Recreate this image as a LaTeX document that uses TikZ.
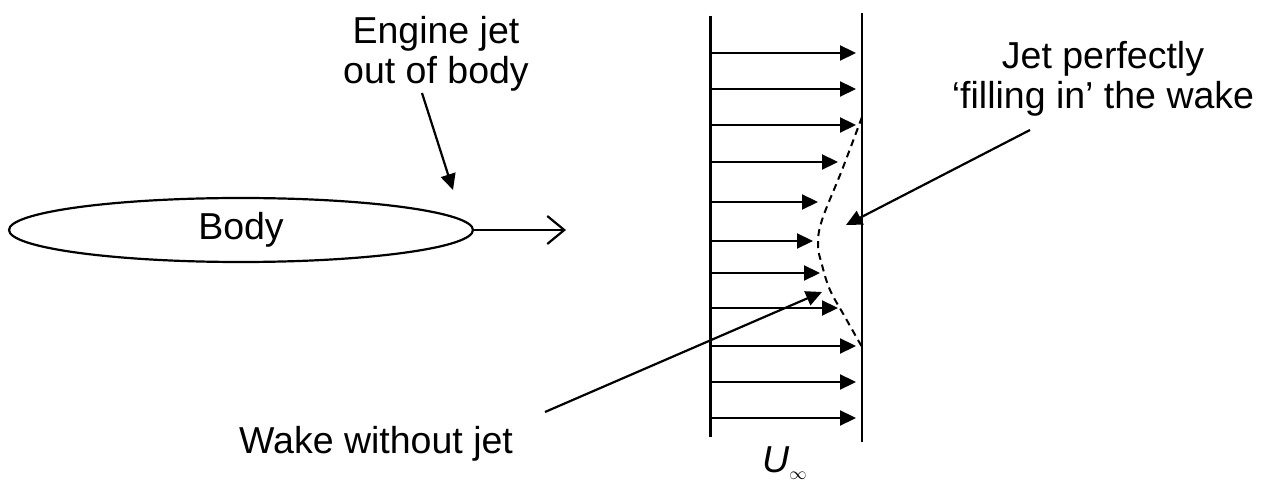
\documentclass[tikz,border=0pt]{standalone}
\usepackage{fontspec}
\setmainfont{Liberation Sans}
\usetikzlibrary{arrows.meta,shapes.geometric}

\tikzset{
  profil/.style={line width=2.2pt,-{Triangle[length=16pt,width=15pt]}},
  hinweis/.style={line width=2.2pt,-{Triangle[length=16pt,width=15pt]}},
  beschriftung/.style={font=\fontsize{37.5}{40}\selectfont,align=center,inner sep=0pt},
}

\begin{document}
\begin{tikzpicture}[x=1pt,y=-1pt] % 1 Einheit = 1 Pixel, y nach unten
\useasboundingbox (0,0) rectangle (1274,486);

% Körper mit Strahl
\node[draw,line width=2.2pt,ellipse,minimum width=464pt,minimum height=64pt,
      inner sep=0pt,font=\fontsize{37.5}{40}\selectfont] (body) at (241,230) {Body};
\coordinate (strahl) at (566,230);
\draw[line width=2.2pt,-{Straight Barb[length=17pt,width=28pt]}] (body.east) -- (strahl);

% Geschwindigkeitsprofil (links / rechts)
\def\xl{710.5}
\def\xr{862}
\draw[line width=2.4pt] (\xl,16) -- (\xl,437);
\draw[line width=2.4pt] (\xr,13) -- (\xr,442);

% Pfeile des Profils: Höhe / Spitze
\foreach \y/\xs in {53/856, 89/856, 125/856, 162/838, 202/818, 241/813,
                    273/820, 308/838, 346/856, 382/856, 418/856}{
\draw[profil] (\xl,\y) -- (\xs,\y);
}

% Nachlauf ohne Strahl (gestrichelt)
\draw[line width=2pt,dash pattern=on 7pt off 5pt]
  plot[smooth,tension=0.6] coordinates {(862,117) (842,170) (822,220) (818,245)
                                         (822,265) (830,290) (845,317) (862,347)};

% Beschriftungen
\node[beschriftung,anchor=north] (engine) at (436,16) {Engine jet\\out of body};
\coordinate (enginestart) at (422,93);
\coordinate (enginetip) at (453,190);
\draw[hinweis] (enginestart) -- (enginetip);

\node[beschriftung,anchor=north] (fill) at (1103,41) {Jet perfectly\\`filling in' the wake};
\coordinate (fillstart) at (1030,130);
\coordinate (filltip) at (846,225);
\draw[hinweis] (fillstart) -- (filltip);

\node[beschriftung,anchor=base west] (wake) at (239,453) {Wake without jet};
\coordinate (wakestart) at (545,412);
\coordinate (waketip) at (822,292);
\draw[hinweis] (wakestart) -- (waketip);

\node[beschriftung,anchor=base west] (uinf) at (762,472)
  {\itshape U\raisebox{-7pt}{\fontsize{16}{16}\selectfont$\infty$}};

\end{tikzpicture}
\end{document}
